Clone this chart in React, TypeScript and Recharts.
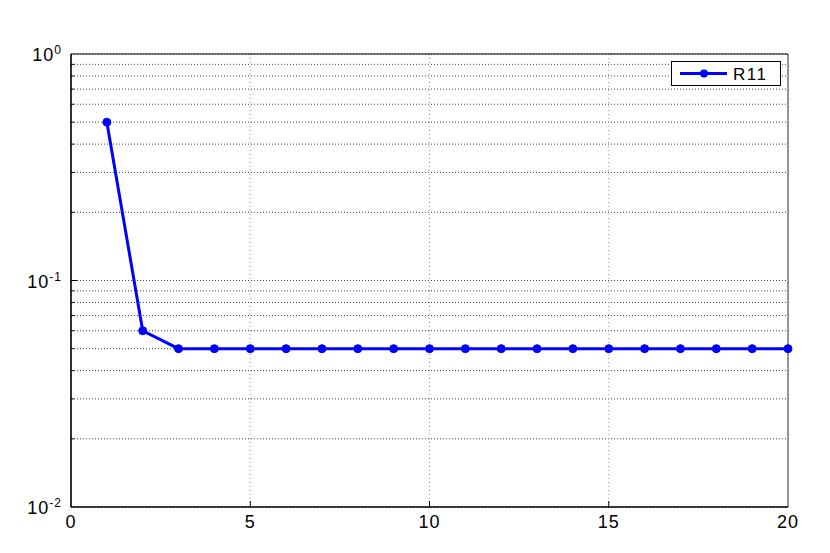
import React from "react";
import {
  LineChart,
  Line,
  XAxis,
  YAxis,
  CartesianGrid,
  Legend,
  ReferenceLine,
} from "recharts";

const iterations = [1, 2, 3, 4, 5, 6, 7, 8, 9, 10, 11, 12, 13, 14, 15, 16, 17, 18, 19, 20];
const r11 = [0.5, 0.06, 0.05, 0.05, 0.05, 0.05, 0.05, 0.05, 0.05, 0.05, 0.05, 0.05, 0.05, 0.05, 0.05, 0.05, 0.05, 0.05, 0.05, 0.05];

const xTicks = [0, 5, 10, 15, 20];
const yTicks = [
  0.01, 0.02, 0.03, 0.04, 0.05, 0.06, 0.07, 0.08, 0.09,
  0.1, 0.2, 0.3, 0.4, 0.5, 0.6, 0.7, 0.8, 0.9, 1,
];
const decadeLabels: Record<string, string> = { "0.01": "-2", "0.1": "-1", "1": "0" };

const data = iterations.map((it, i) => ({ it, r11: r11[i] }));

const FONT = "'Liberation Sans', Arial, Helvetica, sans-serif";
const BLUE = "#0000ff";
const Y_MARGIN = 9;

function isMajor(v: number) {
  return decadeLabels[String(v)] !== undefined;
}

function LeftTick(props: any) {
  const { x, y, payload } = props;
  const v = payload.value;
  const ax = x + Y_MARGIN;
  const len = isMajor(v) ? 6 : 3;
  const exp = decadeLabels[String(v)];
  return (
    <g>
      {v !== 0.01 && v !== 1 && <line x1={ax} x2={ax + len} y1={y} y2={y} stroke="#000" />}
      {exp !== undefined && (
        <text x={x} y={y + 7} textAnchor="end" fontSize={18} letterSpacing={1} fontFamily={FONT} fill="#000">
          <tspan>10</tspan>
          <tspan dy={-7} fontSize={12}>{exp}</tspan>
        </text>
      )}
    </g>
  );
}

function RightTick(props: any) {
  const { x, y, payload } = props;
  const v = payload.value;
  if (v === 0.01 || v === 1) return <g />;
  const len = isMajor(v) ? 6 : 3;
  return <line x1={x} x2={x - len} y1={y} y2={y} stroke="#000" />;
}

function BottomTick(props: any) {
  const { x, y, payload } = props;
  const v = payload.value;
  return (
    <g>
      {v !== 0 && v !== 20 && <line x1={x} x2={x} y1={y} y2={y - 6} stroke="#000" />}
      <text x={x} y={y + 21} textAnchor="middle" fontSize={18} letterSpacing={1} fontFamily={FONT} fill="#000">
        {v}
      </text>
    </g>
  );
}

function TopTick(props: any) {
  const { x, y, payload } = props;
  const v = payload.value;
  if (v === 0 || v === 20) return <g />;
  return <line x1={x} x2={x} y1={y} y2={y + 6} stroke="#000" />;
}

function LegendBox() {
  return (
    <svg width={110} height={25} style={{ display: "block" }}>
      <rect x={0.5} y={0.5} width={109} height={24} fill="#fff" stroke="#000" />
      <line x1={9} x2={56} y1={12.5} y2={12.5} stroke={BLUE} strokeWidth={3} />
      <circle cx={33} cy={12.5} r={4} fill={BLUE} />
      <text x={62} y={18.5} fontSize={17} letterSpacing={1.5} fontFamily={FONT} fill="#000">
        R11
      </text>
    </svg>
  );
}

export default function App() {
  return (
    <div style={{ position: "absolute", left: 0, top: 0, width: 830, height: 553, background: "#fff" }}>
      <LineChart
        width={830}
        height={553}
        data={data}
        margin={{ top: 54, right: 42, left: 0, bottom: 0 }}
      >
        <CartesianGrid vertical={false} stroke="#444" strokeDasharray="1 2" />
        <CartesianGrid horizontal={false} stroke="#999" strokeDasharray="1 3" />
        <XAxis
          dataKey="it"
          type="number"
          domain={[0, 20]}
          ticks={xTicks}
          interval={0}
          tickSize={0}
          tickMargin={0}
          tick={BottomTick}
          tickLine={false}
          axisLine={{ stroke: "#000" }}
          height={46}
        />
        <XAxis
          xAxisId="top"
          orientation="top"
          dataKey="it"
          type="number"
          domain={[0, 20]}
          ticks={xTicks}
          interval={0}
          tickSize={0}
          tickMargin={0}
          tick={TopTick}
          tickLine={false}
          axisLine={{ stroke: "#000" }}
          height={0}
        />
        <YAxis
          scale="log"
          domain={[0.01, 1]}
          allowDataOverflow
          ticks={yTicks}
          interval={0}
          tickSize={0}
          tickMargin={Y_MARGIN}
          tick={LeftTick}
          tickLine={false}
          axisLine={{ stroke: "#000" }}
          width={71}
        />
        <YAxis
          yAxisId="right"
          orientation="right"
          scale="log"
          domain={[0.01, 1]}
          allowDataOverflow
          ticks={yTicks}
          interval={0}
          tickSize={0}
          tickMargin={0}
          tick={RightTick}
          tickLine={false}
          axisLine={{ stroke: "#000" }}
          width={0}
        />
        <ReferenceLine x={0} stroke="#000" strokeWidth={1.2} />
        <ReferenceLine x={20} stroke="#555" strokeWidth={1.2} />
        <ReferenceLine y={0.01} stroke="#000" strokeWidth={1.2} />
        <ReferenceLine y={1} stroke="#000" strokeWidth={1.2} />
        <Legend
          layout="vertical"
          align="center"
          verticalAlign="middle"
          content={() => <LegendBox />}
          wrapperStyle={{ left: 671, top: 61, width: 110, height: 25 }}
        />
        <Line
          type="linear"
          dataKey="r11"
          name="R11"
          stroke={BLUE}
          strokeWidth={3}
          dot={{ r: 4, fill: BLUE, stroke: BLUE, strokeWidth: 1 }}
          activeDot={false}
          isAnimationActive={false}
        />
      </LineChart>
    </div>
  );
}
